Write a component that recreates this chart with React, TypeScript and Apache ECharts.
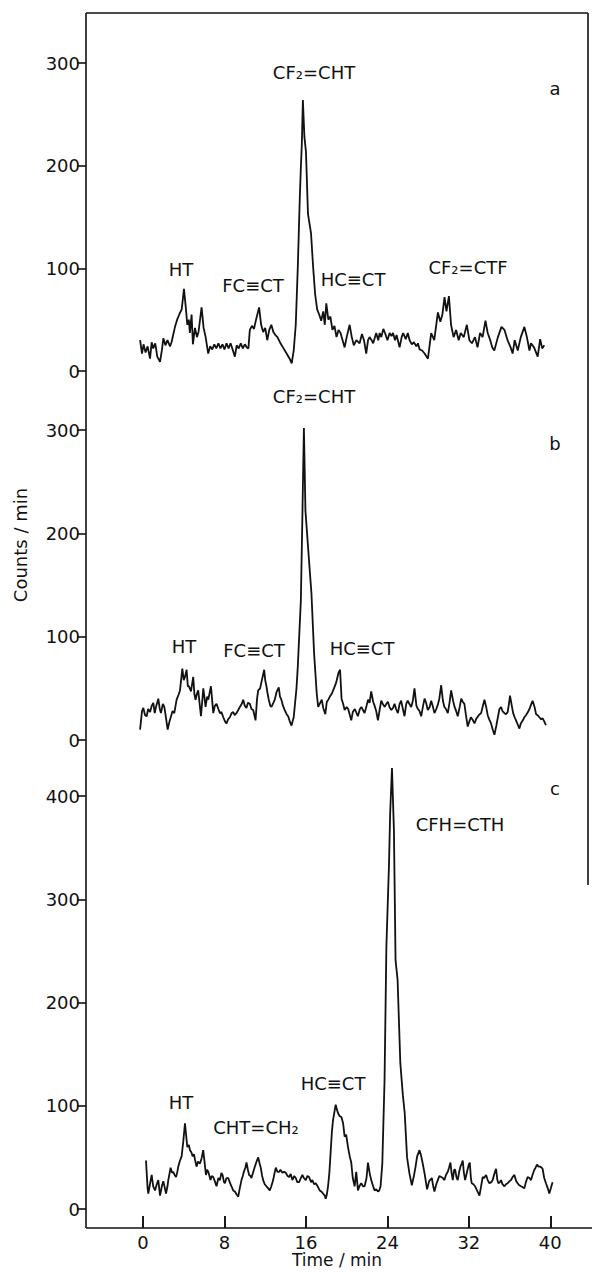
import React, { useEffect, useRef } from "react";
import * as echarts from "echarts";

const xTicks = [0, 8, 16, 24, 32, 40];
const yTicksA = [0, 100, 200, 300];
const yTicksB = [0, 100, 200, 300];
const yTicksC = [0, 100, 200, 300, 400];

const seriesA: [number, number][] = [
  [-0.29,30],[-0.1,17],[0.05,26],[0.25,18],[0.45,24],[0.69,12],[0.85,28],[1.0,22],[1.2,27],[1.4,14],[1.67,9],[1.85,20],[2.0,32],[2.2,25],[2.4,30],[2.65,24],[2.8,28],[3.14,43],[3.35,50],[3.6,56],[3.8,60],[4.02,80],[4.2,62],[4.35,45],[4.5,50],[4.6,37],[4.77,55],[4.9,26],[5.1,42],[5.3,33],[5.45,38],[5.75,62],[5.95,42],[6.15,33],[6.4,17],[6.6,24],[6.8,21],[7.0,26],[7.2,22],[7.4,27],[7.6,22],[7.8,26],[8.0,21],[8.2,27],[8.4,22],[8.6,27],[8.8,21],[9.02,14],[9.2,25],[9.4,22],[9.6,27],[9.8,22],[10.0,26],[10.2,23],[10.35,22],[10.49,40],[10.7,44],[10.9,41],[11.1,50],[11.4,62],[11.6,45],[11.8,38],[12.0,42],[12.2,30],[12.4,40],[12.6,45],[12.8,38],[13.0,35],[13.2,33],[13.5,27],[13.8,22],[14.1,17],[14.4,12],[14.6,7.5],[14.8,20],[15.0,45],[15.2,101],[15.4,170],[15.5,198],[15.6,222],[15.7,264],[15.85,228],[16.0,214],[16.2,153],[16.5,134],[16.7,102],[16.9,75],[17.1,60],[17.3,55],[17.5,49],[17.7,58],[17.85,45],[18.0,66],[18.2,50],[18.4,53],[18.6,40],[18.8,44],[19.0,33],[19.2,40],[19.4,37],[19.6,30],[19.8,23],[20.0,33],[20.29,45],[20.5,33],[20.7,25],[20.95,30],[21.27,27],[21.5,36],[21.7,30],[21.92,17],[22.1,30],[22.25,33],[22.45,30],[22.6,27],[22.9,37],[23.1,30],[23.24,37],[23.4,33],[23.6,41],[23.8,36],[24.0,30],[24.22,37],[24.4,34],[24.55,37],[24.75,30],[24.9,35],[25.2,23],[25.4,33],[25.55,37],[25.8,31],[26.0,37],[26.18,30],[26.4,26],[26.6,28],[26.85,24],[27.0,27],[27.16,21],[27.4,20],[27.65,17],[27.98,12],[28.3,37],[28.6,30],[28.96,57],[29.2,48],[29.4,55],[29.61,72],[29.8,58],[30.04,73],[30.25,45],[30.5,33],[30.75,40],[31.0,30],[31.2,37],[31.5,33],[31.8,45],[32.05,30],[32.3,27],[32.6,33],[32.85,23],[33.1,37],[33.35,33],[33.63,49],[33.85,37],[34.1,30],[34.3,23],[34.5,20],[34.85,33],[35.2,43],[35.5,40],[35.8,30],[36.1,23],[36.3,17],[36.5,30],[36.8,20],[37.1,33],[37.45,43],[37.7,33],[37.95,20],[38.1,27],[38.4,23],[38.76,14],[39.0,31],[39.2,22],[39.41,25]
];

const seriesB: [number, number][] = [
  [-0.29,10],[-0.1,28],[0.03,31],[0.2,24],[0.36,23],[0.5,30],[0.69,27],[0.85,33],[1.01,36],[1.15,26],[1.3,33],[1.5,40],[1.65,30],[1.76,26],[1.95,35],[2.09,32],[2.25,22],[2.42,10],[2.6,18],[2.75,23],[2.9,28],[3.07,26],[3.3,39],[3.5,44],[3.63,48],[3.86,69],[4.0,58],[4.12,61],[4.28,68],[4.4,52],[4.51,52],[4.71,47],[4.93,61],[5.05,44],[5.16,39],[5.3,45],[5.42,48],[5.69,23],[5.92,50],[6.05,40],[6.14,32],[6.3,42],[6.41,39],[6.67,52],[6.9,26],[7.05,33],[7.22,35],[7.4,30],[7.55,26],[7.7,27],[7.88,22],[8.05,18],[8.2,16],[8.35,20],[8.53,22],[8.7,26],[8.86,27],[9.0,24],[9.18,26],[9.35,29],[9.51,32],[9.7,35],[9.84,39],[10.0,33],[10.16,31],[10.3,36],[10.49,35],[10.65,30],[10.82,29],[11.05,19],[11.2,40],[11.31,48],[11.5,50],[11.63,56],[11.9,68],[12.0,58],[12.12,52],[12.25,44],[12.35,39],[12.5,33],[12.61,32],[12.8,36],[12.94,39],[13.1,46],[13.33,51],[13.45,42],[13.59,39],[13.75,33],[13.92,29],[14.1,25],[14.25,23],[14.45,17],[14.58,14],[14.8,22],[15.07,50],[15.2,71],[15.5,135],[15.65,216],[15.8,302],[15.95,222],[16.3,174],[16.54,142],[16.8,84],[17.06,45],[17.2,32],[17.4,36],[17.55,39],[17.7,31],[17.9,25],[18.05,37],[18.2,39],[18.35,42],[18.55,45],[18.75,50],[18.95,55],[19.2,65],[19.35,68],[19.5,40],[19.65,35],[19.8,29],[20.0,32],[20.15,30],[20.45,19],[20.6,27],[20.8,30],[21.1,23],[21.3,30],[21.45,32],[21.6,29],[21.76,26],[21.95,33],[22.1,39],[22.25,36],[22.41,47],[22.6,37],[22.75,33],[22.9,28],[23.07,19],[23.25,30],[23.4,38],[23.55,35],[23.72,32],[23.9,35],[24.05,37],[24.2,32],[24.38,29],[24.55,31],[24.7,35],[24.85,30],[25.03,26],[25.2,35],[25.35,38],[25.5,31],[25.68,23],[25.85,35],[26.0,38],[26.15,35],[26.34,32],[26.5,38],[26.66,50],[26.85,33],[27.0,30],[27.15,28],[27.32,23],[27.5,33],[27.65,40],[27.8,36],[27.97,29],[28.15,32],[28.3,38],[28.45,33],[28.62,26],[28.8,30],[28.95,34],[29.1,40],[29.28,53],[29.45,38],[29.6,32],[29.75,30],[29.93,26],[30.1,36],[30.26,48],[30.45,38],[30.6,32],[30.75,28],[30.91,23],[31.1,32],[31.25,40],[31.4,37],[31.56,35],[31.7,25],[31.89,13],[32.05,18],[32.2,22],[32.4,19],[32.55,16],[32.7,20],[32.9,23],[33.05,25],[33.2,26],[33.35,32],[33.53,39],[33.7,32],[33.85,24],[34.0,20],[34.18,16],[34.35,10],[34.51,5],[34.7,14],[34.85,22],[35.0,30],[35.16,32],[35.3,28],[35.5,26],[35.65,25],[35.81,27],[35.95,36],[36.04,43],[36.2,34],[36.35,26],[36.5,22],[36.63,19],[36.8,15],[36.96,11],[37.1,16],[37.3,19],[37.45,22],[37.61,24],[37.8,27],[37.95,30],[38.1,34],[38.26,38],[38.45,32],[38.6,25],[38.75,24],[38.92,22],[39.1,20],[39.25,21],[39.4,18],[39.57,14.5]
];

const seriesC: [number, number][] = [
  [0.29,47],[0.45,20],[0.52,15],[0.7,25],[0.85,33],[1.0,22],[1.18,18],[1.35,24],[1.5,28],[1.67,13],[1.85,22],[1.99,27],[2.15,20],[2.26,15],[2.4,22],[2.48,28],[2.71,40],[2.85,35],[2.97,36],[3.1,33],[3.24,31],[3.35,35],[3.46,41],[3.6,46],[3.79,51],[3.95,65],[4.12,83],[4.25,70],[4.35,60],[4.5,62],[4.61,57],[4.75,55],[4.87,51],[5.0,53],[5.1,48],[5.26,41],[5.4,46],[5.59,44],[5.75,49],[5.91,57],[6.05,45],[6.18,33],[6.3,38],[6.41,36],[6.5,33],[6.63,28],[6.75,32],[6.89,31],[7.05,27],[7.22,22],[7.4,30],[7.55,28],[7.7,35],[7.81,33],[7.95,26],[8.04,25],[8.2,30],[8.37,30],[8.55,25],[8.69,22],[8.85,18],[9.02,17],[9.2,14],[9.35,12],[9.5,20],[9.67,28],[9.8,32],[9.9,36],[10.05,40],[10.16,45],[10.3,38],[10.42,33],[10.55,32],[10.65,30],[10.8,35],[10.98,41],[11.15,46],[11.31,50],[11.45,44],[11.54,41],[11.7,32],[11.8,28],[11.95,24],[12.12,22],[12.3,20],[12.45,18],[12.6,22],[12.78,28],[12.9,34],[13.04,40],[13.2,36],[13.37,36],[13.5,38],[13.69,35],[13.85,36],[14.02,35],[14.2,32],[14.35,31],[14.5,34],[14.67,28],[14.85,32],[15.0,30],[15.15,26],[15.33,26],[15.5,30],[15.65,33],[15.8,30],[15.98,28],[16.15,32],[16.31,31],[16.5,26],[16.63,28],[16.8,24],[16.96,25],[17.15,22],[17.35,18],[17.5,17],[17.68,15],[17.85,13],[17.94,10],[18.05,14],[18.17,22],[18.3,35],[18.4,51],[18.55,75],[18.66,86],[18.8,94],[18.92,101],[19.05,96],[19.15,93],[19.3,90],[19.48,89],[19.65,83],[19.8,70],[19.95,72],[20.13,60],[20.3,51],[20.45,45],[20.6,30],[20.78,22],[20.94,36],[21.11,18],[21.25,22],[21.43,25],[21.6,22],[21.76,22],[21.95,30],[22.09,45],[22.25,35],[22.41,28],[22.6,22],[22.74,18],[22.9,19],[23.07,17],[23.2,18],[23.33,22],[23.5,44],[23.72,125],[23.9,254],[24.16,335],[24.27,383],[24.45,427],[24.64,367],[24.8,241],[25.0,222],[25.27,141],[25.52,110],[25.7,93],[25.93,50],[26.17,34],[26.4,23],[26.6,32],[26.75,40],[26.92,51],[27.15,57],[27.3,52],[27.45,45],[27.64,35],[27.8,25],[27.9,19],[28.1,27],[28.36,30],[28.5,22],[28.62,17],[28.8,24],[28.95,28],[29.1,32],[29.28,31],[29.45,30],[29.6,28],[29.75,33],[29.93,36],[30.05,40],[30.19,45],[30.3,35],[30.42,28],[30.55,38],[30.65,38],[30.8,30],[30.91,28],[31.05,36],[31.17,41],[31.3,44],[31.4,47],[31.5,36],[31.63,28],[31.75,33],[31.89,39],[32.0,43],[32.09,45],[32.2,30],[32.28,25],[32.45,24],[32.61,22],[32.8,18],[33.04,13],[33.2,22],[33.36,31],[33.5,30],[33.69,33],[33.85,28],[34.02,25],[34.2,26],[34.34,28],[34.5,34],[34.67,39],[34.8,28],[34.9,25],[35.05,26],[35.16,28],[35.3,24],[35.49,22],[35.65,24],[35.81,25],[36.0,27],[36.14,28],[36.3,31],[36.47,33],[36.65,27],[36.79,25],[36.95,23],[37.12,22],[37.3,21],[37.45,20],[37.6,26],[37.77,31],[37.95,30],[38.1,28],[38.25,33],[38.43,38],[38.55,40],[38.69,43],[38.85,41],[39.02,41],[39.15,40],[39.24,39],[39.4,30],[39.57,25],[39.75,20],[39.9,15],[40.05,20],[40.22,26]
];

const panelLetters = ["a", "b", "c"];
const annotationsA = ["CF₂=CHT", "HT", "FC≡CT", "HC≡CT", "CF₂=CTF"];
const annotationsB = ["CF₂=CHT", "HT", "FC≡CT", "HC≡CT"];
const annotationsC = ["CFH=CTH", "HC≡CT", "HT", "CHT=CH₂"];

const FONT = "DejaVu Sans";
const INK = "#111";

export default function App() {
  const ref = useRef<HTMLDivElement>(null);
  useEffect(() => {
    if (!ref.current) return;
    const chart = echarts.init(ref.current, null, { renderer: "svg" });

    const L = 86, R = 4;
    const xMin = -5.6, xMax = 43.7;
    const panels = [
      { top: 63, bottom: 371, min: 0, max: 300, ticks: yTicksA, data: seriesA },
      { top: 430, bottom: 740, min: 0, max: 300, ticks: yTicksB, data: seriesB },
      { top: 796, bottom: 1228, min: -18.4, max: 400, ticks: yTicksC, data: seriesC },
    ];

    const txt = (text: string, x: number, y: number, extra: any = {}) => ({
      type: "text",
      x,
      y,
      style: {
        text,
        fill: INK,
        font: `18px "${FONT}"`,
        align: "center",
        verticalAlign: "middle",
      },
      ...extra,
    });

    const positionsA = [[314, 72], [181, 269], [253, 285], [353, 279], [468, 267]];
    const positionsB = [[314, 396], [184, 646], [254, 650], [362, 648]];
    const positionsC = [[460, 824], [333, 1083], [181, 1102], [256, 1127]];
    const letterPos = [[555, 88], [555, 443], [555, 788]];

    const graphics: any[] = [];
    annotationsA.forEach((t, i) => graphics.push(txt(t, positionsA[i][0], positionsA[i][1])));
    annotationsB.forEach((t, i) => graphics.push(txt(t, positionsB[i][0], positionsB[i][1])));
    annotationsC.forEach((t, i) => graphics.push(txt(t, positionsC[i][0], positionsC[i][1])));
    panelLetters.forEach((t, i) => graphics.push(txt(t, letterPos[i][0], letterPos[i][1])));
    graphics.push(txt("Counts / min", 20, 545, { rotation: Math.PI / 2 }));
    const frame = { stroke: INK, lineWidth: 1.6 };
    graphics.push({ type: "line", shape: { x1: L, y1: 13, x2: 588, y2: 13 }, style: frame });
    graphics.push({ type: "line", shape: { x1: 588, y1: 13, x2: 588, y2: 885 }, style: frame });
    graphics.push({ type: "line", shape: { x1: L, y1: 13, x2: L, y2: 1228 }, style: frame });
    graphics.push({ type: "line", shape: { x1: L, y1: 1228, x2: 592, y2: 1228 }, style: frame });

    const tickStyle = { color: INK, width: 1.6 };

    // grids 0..2: the three panels; grid 3: a 12px strip above the time axis that carries its ticks and labels
    const gridList: any[] = panels.map((p) => ({
      left: L, right: R, top: p.top, height: p.bottom - p.top, outerBoundsMode: "none", containLabel: false,
    }));
    gridList.push({ left: L, right: R, top: 1216, height: 12, outerBoundsMode: "none", containLabel: false });

    // xAxis 2*i: time axis of panel i (hidden); 2*i+1: hidden helper whose zero is the grid's left edge
    const xAxes: any[] = [];
    panels.forEach((p, i) => {
      xAxes.push({
        type: "value", gridIndex: i, min: xMin, max: xMax, show: false,
        axisLine: { onZero: false },
      });
      xAxes.push({
        type: "value", gridIndex: i, min: 0, max: 1, show: false,
        axisLine: { onZero: false },
      });
    });
    // xAxis 6: the visible time axis
    xAxes.push({
      type: "value",
      gridIndex: 3,
      min: xMin,
      max: xMax,
      splitLine: { show: true, lineStyle: tickStyle },
      axisLine: { show: false },
      axisTick: { show: true, inside: true, length: 12, customValues: xTicks, lineStyle: tickStyle },
      axisLabel: { customValues: xTicks, color: INK, fontSize: 18, fontFamily: FONT, margin: 5 },
      name: "Time / min",
      nameLocation: "middle",
      nameGap: 23,
      nameTextStyle: { color: INK, fontSize: 17, fontFamily: FONT },
    });

    const yAxes: any[] = panels.map((p, i) => ({
      type: "value",
      gridIndex: i,
      min: p.min,
      max: p.max,
      splitLine: { show: false },
      axisLine: { show: false, onZero: true, onZeroAxisIndex: 2 * i + 1 },
      axisTick: { show: true, inside: false, length: 9, customValues: p.ticks, lineStyle: tickStyle },
      axisLabel: { customValues: p.ticks, color: INK, fontSize: 18, fontFamily: FONT, margin: 6 },
    }));
    // yAxis 3: hidden axis of the tick strip
    yAxes.push({
      type: "value", gridIndex: 3, min: 0, max: 1, show: false,
      splitLine: { show: false }, axisLine: { onZero: false },
    });

    const option: any = {
      animation: false,
      backgroundColor: "#fff",
      textStyle: { fontFamily: FONT },
      grid: gridList,
      xAxis: xAxes,
      yAxis: yAxes,
      series: panels.map((p, i) => ({
        type: "line",
        xAxisIndex: 2 * i,
        yAxisIndex: i,
        data: p.data,
        showSymbol: false,
        symbol: "none",
        clip: false,
        lineStyle: { color: INK, width: 1.8 },
      })),
      graphic: graphics,
    };
    chart.setOption(option);
    return () => chart.dispose();
  }, []);
  return (
    <div
      ref={ref}
      style={{ position: "absolute", left: 0, top: 0, width: 592, height: 1272, background: "#fff" }}
    />
  );
}
